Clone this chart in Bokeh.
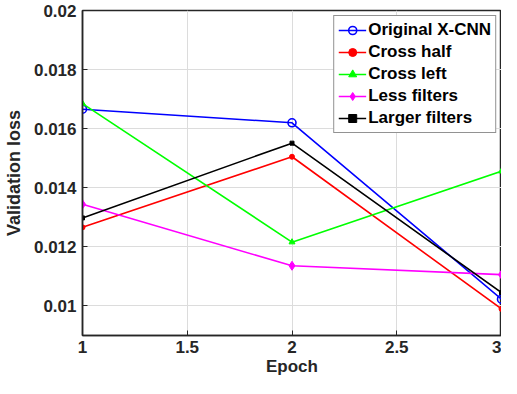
from bokeh.plotting import figure
from bokeh.models import FixedTicker, Range1d, Legend, LegendItem
from bokeh.embed import file_html
from bokeh.resources import INLINE

epochs = [1, 2, 3]
original_xcnn = [0.01666, 0.01620, 0.01023]
cross_half = [0.01266, 0.01505, 0.00990]
cross_left = [0.01685, 0.01216, 0.01456]
less_filters = [0.01344, 0.01136, 0.01106]
larger_filters = [0.01298, 0.01551, 0.01045]

x_ticks = [1, 1.5, 2, 2.5, 3]
x_labels = ["1", "1.5", "2", "2.5", "3"]
y_ticks = [0.01, 0.012, 0.014, 0.016, 0.018, 0.02]
y_labels = ["0.01", "0.012", "0.014", "0.016", "0.018", "0.02"]

FONT = "Liberation Sans"
TXT = "#262626"

p = figure(width=501, height=378, output_backend="svg", toolbar_location=None,
           x_range=Range1d(1, 3), y_range=Range1d(0.009, 0.02),
           min_border_left=72, min_border_right=0, min_border_top=10, min_border_bottom=40)
p.background_fill_color = "white"
p.border_fill_color = "white"
p.outline_line_color = TXT
p.outline_line_width = 1.5

for ax, ticks, labels in ((p.xaxis[0], x_ticks, x_labels), (p.yaxis[0], y_ticks, y_labels)):
    ax.ticker = FixedTicker(ticks=ticks)
    ax.major_label_overrides = {t: l for t, l in zip(ticks, labels)}
    ax.major_tick_in = 5
    ax.major_tick_out = 0
    ax.minor_tick_in = 0
    ax.minor_tick_out = 0
    ax.axis_line_color = TXT
    ax.axis_line_width = 1.5
    ax.major_tick_line_color = TXT
    ax.major_label_text_font = FONT
    ax.major_label_text_font_style = "bold"
    ax.major_label_text_font_size = "17px"
    ax.major_label_text_color = TXT
    ax.axis_label_text_font = FONT
    ax.axis_label_text_font_style = "bold"
    ax.axis_label_text_font_size = "17px"
    ax.axis_label_text_color = TXT

p.xaxis.axis_label = "Epoch"
p.yaxis.axis_label = "Validation loss"
p.yaxis.axis_label_text_font_size = "18px"
p.xaxis.major_label_standoff = 5
p.xaxis.axis_label_standoff = 1
p.yaxis.major_label_standoff = 6
p.yaxis.axis_label_standoff = 7

p.grid.grid_line_color = "#dcdcdc"
p.grid.grid_line_width = 1
p.xgrid.ticker = FixedTicker(ticks=x_ticks)
p.ygrid.ticker = FixedTicker(ticks=y_ticks)

lw = 1.6
items = []
l1 = p.line(epochs, original_xcnn, color="#0000ff", line_width=lw)
m1 = p.scatter(epochs, original_xcnn, marker="circle", size=8, line_color="#0000ff",
               fill_color=None, line_width=1.6)
items.append(LegendItem(label="Original X-CNN", renderers=[l1, m1]))

l2 = p.line(epochs, cross_half, color="#ff0000", line_width=lw)
m2 = p.scatter(epochs, cross_half, marker="circle", size=5, color="#ff0000")
items.append(LegendItem(label="Cross half", renderers=[l2, m2]))

l3 = p.line(epochs, cross_left, color="#00ff00", line_width=lw)
m3 = p.scatter(epochs, cross_left, marker="triangle", size=6, color="#00ff00")
items.append(LegendItem(label="Cross left", renderers=[l3, m3]))

l4 = p.line(epochs, less_filters, color="#ff00ff", line_width=lw)
m4 = p.scatter(epochs, less_filters, marker="diamond", size=9, color="#ff00ff")
items.append(LegendItem(label="Less filters", renderers=[l4, m4]))

l5 = p.line(epochs, larger_filters, color="#000000", line_width=lw)
m5 = p.scatter(epochs, larger_filters, marker="square", size=4, color="#000000")
items.append(LegendItem(label="Larger filters", renderers=[l5, m5]))

legend = Legend(items=items, location="top_right")
legend.label_text_font = FONT
legend.label_text_font_style = "bold"
legend.label_text_font_size = "17px"
legend.label_text_color = "#000000"
legend.border_line_color = TXT
legend.border_line_width = 1.5
legend.glyph_width = 28
legend.glyph_height = 20
legend.label_height = 20
legend.spacing = 2
legend.padding = 4
legend.label_standoff = 2
legend.margin = 5
legend.background_fill_alpha = 1
p.add_layout(legend)

open("out.html", "w").write(file_html(p, INLINE))
